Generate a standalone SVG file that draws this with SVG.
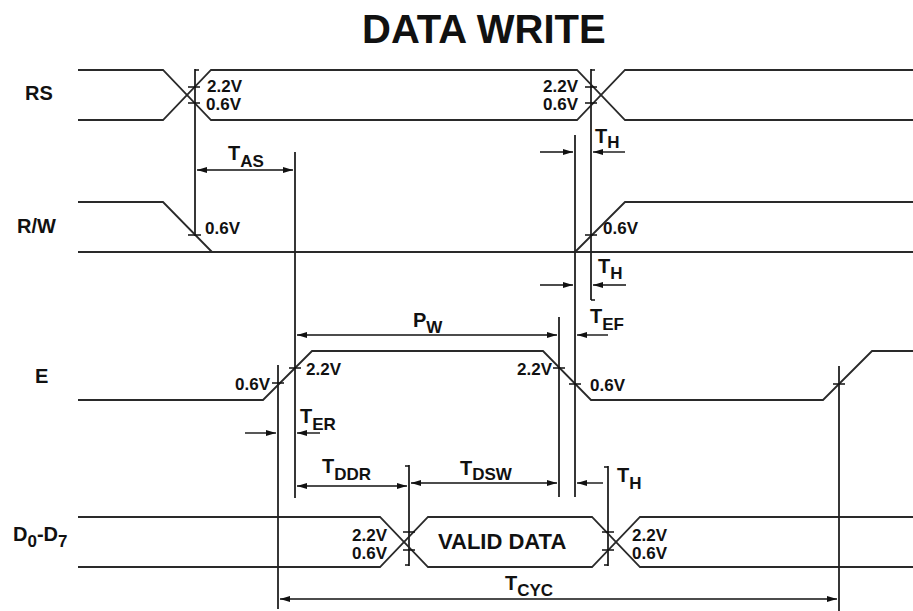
<svg xmlns="http://www.w3.org/2000/svg" width="913" height="611" viewBox="0 0 913 611">
<defs>
<style>
.sig{fill:none;stroke:#2a2a2a;stroke-width:1.8;stroke-linejoin:miter}
.ref{fill:none;stroke:#222;stroke-width:1.8}
.tick{fill:none;stroke:#111;stroke-width:1.6}
.dim{fill:none;stroke:#111;stroke-width:1.4}
text{font-family:"Liberation Sans",Arial,sans-serif;font-weight:bold;fill:#111}
.lbl{font-size:20px}
.v{font-size:17px}
.t{font-size:20px}
.sub{font-size:17px}
.title{font-size:40px}
</style>
<marker id="ah" viewBox="0 0 10 6" refX="10" refY="3" markerWidth="11" markerHeight="6" markerUnits="userSpaceOnUse" orient="auto-start-reverse"><path d="M0,0 L10,3 L0,6 z" fill="#111"/></marker>
</defs>
<rect width="913" height="611" fill="#fff"/>
<text class="title" x="362" y="43">DATA WRITE</text>

<g id="sig-rs">
<text class="lbl" x="25" y="100">RS</text>
<polyline class="sig" points="78,70 163,70 211,120 577,120 625,70 913,70"/>
<polyline class="sig" points="78,120 163,120 211,70 577,70 625,120 913,120"/>
<text class="v" x="207" y="92">2.2V</text>
<text class="v" x="206" y="110">0.6V</text>
<text class="v" x="578" y="92" text-anchor="end">2.2V</text>
<text class="v" x="578" y="110" text-anchor="end">0.6V</text>
</g>

<g id="sig-rw">
<text class="lbl" x="17" y="233">R/W</text>
<polyline class="sig" points="78,202 163,202 212,252"/>
<polyline class="sig" points="78,252 913,252"/>
<polyline class="sig" points="575,252 625,202 913,202"/>
<text class="v" x="205" y="234">0.6V</text>
<text class="v" x="603" y="234">0.6V</text>
</g>

<g id="sig-e">
<text class="lbl" x="35" y="383">E</text>
<polyline class="sig" points="78,400 263,400 312,351 543,351 591,400 823,400 872,351 913,351"/>
<text class="v" x="270" y="390" text-anchor="end">0.6V</text>
<text class="v" x="306" y="375">2.2V</text>
<text class="v" x="552" y="375" text-anchor="end">2.2V</text>
<text class="v" x="590" y="391">0.6V</text>
</g>

<g id="sig-data">
<text class="lbl" x="13" y="541">D<tspan class="sub" dy="6">0</tspan><tspan dy="-6">-D</tspan><tspan class="sub" dy="6">7</tspan></text>
<polyline class="sig" points="78,517 380,517 428,567 592,567 640,517 913,517"/>
<polyline class="sig" points="78,567 380,567 428,517 592,517 640,567 913,567"/>
<text x="438" y="549" font-size="22">VALID DATA</text>
<text class="v" x="387" y="541" text-anchor="end">2.2V</text>
<text class="v" x="387" y="559" text-anchor="end">0.6V</text>
<text class="v" x="632" y="541">2.2V</text>
<text class="v" x="632" y="559">0.6V</text>
</g>

<g id="connectors">
<path class="ref" d="M195,69 V236 M295,152 V498 M591,69 V300 M575,135 V497 M559,317 V497 M278,365 V609 M409,465 V566 M608,466 V566 M839,366 V611"/>
<path class="tick" d="M195,70 h4 M591,70 h4 M591,300 h4 M409,466 h-4 M409,565 h-4 M608,467 h-4 M608,565 h-4"/>
<path class="tick" d="M188,87 h12 M188,103 h12 M585,87 h12 M585,103 h12 M188,235 h13 M585,235 h12 M272,383 h12 M289,368 h12 M553,368 h12 M569,384 h12 M833,384 h12 M403,532 h12 M403,550 h12 M602,532 h12 M602,550 h12"/>
<line class="dim" x1="197" y1="170" x2="293" y2="170" marker-start="url(#ah)" marker-end="url(#ah)"/>
<line class="dim" x1="540" y1="152" x2="573" y2="152" marker-end="url(#ah)"/>
<line class="dim" x1="625" y1="152" x2="593" y2="152" marker-end="url(#ah)"/>
<line class="dim" x1="540" y1="285" x2="573" y2="285" marker-end="url(#ah)"/>
<line class="dim" x1="626" y1="285" x2="593" y2="285" marker-end="url(#ah)"/>
<line class="dim" x1="297" y1="335" x2="557" y2="335" marker-start="url(#ah)" marker-end="url(#ah)"/>
<line class="dim" x1="608" y1="335" x2="577" y2="335" marker-end="url(#ah)"/>
<line class="dim" x1="245" y1="433" x2="276" y2="433" marker-end="url(#ah)"/>
<line class="dim" x1="320" y1="433" x2="297" y2="433" marker-end="url(#ah)"/>
<line class="dim" x1="297" y1="486" x2="407" y2="486" marker-start="url(#ah)" marker-end="url(#ah)"/>
<line class="dim" x1="411" y1="483" x2="557" y2="483" marker-start="url(#ah)" marker-end="url(#ah)"/>
<line class="dim" x1="603" y1="483" x2="577" y2="483" marker-end="url(#ah)"/>
<line class="dim" x1="280" y1="599" x2="837" y2="599" marker-start="url(#ah)" marker-end="url(#ah)"/>
</g>

<g id="timing-labels">
<text class="t" x="228" y="160">T<tspan class="sub" dy="7">AS</tspan></text>
<text class="t" x="595" y="143">T<tspan class="sub" dy="5">H</tspan></text>
<text class="t" x="598" y="273">T<tspan class="sub" dy="6">H</tspan></text>
<text class="t" x="413" y="327">P<tspan class="sub" dy="6">W</tspan></text>
<text class="t" x="590" y="323">T<tspan class="sub" dy="7">EF</tspan></text>
<text class="t" x="300" y="423">T<tspan class="sub" dy="7">ER</tspan></text>
<text class="t" x="322" y="473">T<tspan class="sub" dy="7">DDR</tspan></text>
<text class="t" x="460" y="475">T<tspan class="sub" dy="5">DSW</tspan></text>
<text class="t" x="617" y="482">T<tspan class="sub" dy="7">H</tspan></text>
<text class="t" x="505" y="590">T<tspan class="sub" dy="6">CYC</tspan></text>
</g>
</svg>
